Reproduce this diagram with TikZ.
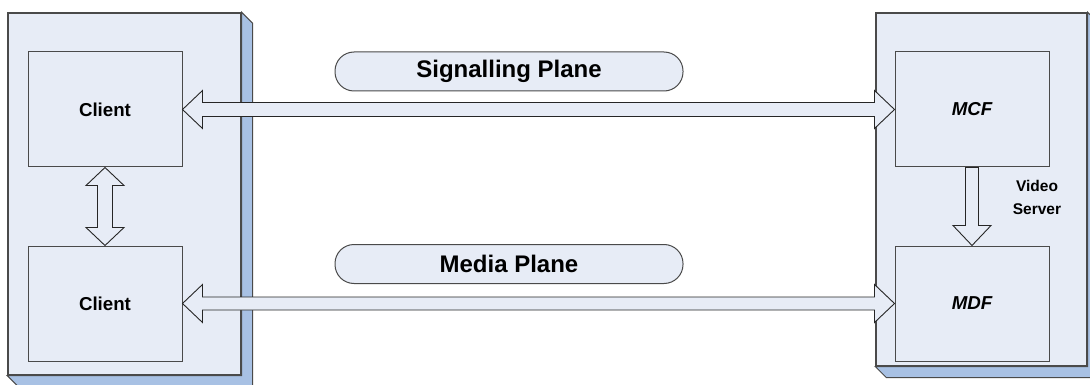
\documentclass[tikz,border=0pt]{standalone}
\usepackage{fontspec}
\setmainfont{Liberation Sans}
\usetikzlibrary{calc,positioning}
\definecolor{planefill}{HTML}{E7ECF6}
\definecolor{slabfill}{HTML}{A8C1E4}
\definecolor{edgegray}{HTML}{4A4A4A}
\tikzset{
    host/.style={draw=edgegray, line width=1.3pt, fill=planefill, minimum width=#1, inner sep=0pt},
    func/.style={draw=edgegray, line width=1pt, fill=planefill, minimum width=154pt, minimum height=115pt,
        font=\fontsize{18.7}{22}\selectfont\bfseries},
    plane/.style={draw=edgegray, line width=1pt, fill=planefill, rounded corners=19pt, minimum width=348pt,
        minimum height=39pt, font=\fontsize{24}{28}\selectfont\bfseries},
    slab/.style={draw=edgegray, line width=1pt, fill=slabfill},
    blockarr/.style={draw=black!85, line width=0.9pt, fill=planefill, line join=miter}
}
\begin{document}
\begin{tikzpicture}[x=1pt, y=-1pt]
        \useasboundingbox (0,0) rectangle (1090,385);
        % hosts
        \node[host=233pt, minimum height=362pt] (lhost) at (124.5,194) {};
        \node[host=211pt, minimum height=353pt] (rhost) at (981.5,189.5) {};
        \filldraw[slab] (lhost.north east) -- ++(11,11) -- ($(lhost.south east)+(11,11)$)
            -- ($(lhost.south west)+(11,11)$) -- (lhost.south west) -- (lhost.south east) -- cycle;
        \filldraw[slab] (rhost.north east) -- ++(11,11) -- ($(rhost.south east)+(11,11)$)
            -- ($(rhost.south west)+(11,11)$) -- (rhost.south west) -- (rhost.south east) -- cycle;
        \node[host=233pt, minimum height=362pt] at (lhost) {};
        \node[host=211pt, minimum height=353pt] at (rhost) {};
        % functions
        \node[func] (client1) at (105,109.5) {Client};
        \node[func, below=78pt of client1] (client2) {Client};
        \node[func] (mcf) at (972,109.5) {\itshape MCF};
        \node[func, below=78pt of mcf] (mdf) {\itshape MDF};
        \node[align=center, font=\fontsize{15.5}{23}\selectfont\bfseries] (vs) at (1037,197) {Video\\Server};
        % planes
        \node[plane] (sigplane) at (509,71.5) {Signalling Plane};
        \node[plane] (medplane) at (509,264) {Media Plane};
        % arrows
        \draw[blockarr] (client1.east) -- ++(20,-19) -- ++(0,12) -- ($(mcf.west)+(-20,-7)$) -- ++(0,-12)
            -- (mcf.west) -- ++(-20,19) -- ++(0,-12) -- ($(client1.east)+(20,7)$) -- ++(0,12) -- cycle;
        \draw[blockarr] (client2.east) -- ++(20,-19) -- ++(0,12.5) -- ($(mdf.west)+(-20,-6.5)$) -- ++(0,-12.5)
            -- (mdf.west) -- ++(-20,19) -- ++(0,-12.5) -- ($(client2.east)+(20,6.5)$) -- ++(0,12.5) -- cycle;
        \draw[blockarr] (client1.south) -- ++(19,18) -- ++(-11.5,0) -- ($(client2.north)+(7.5,-18)$) -- ++(11.5,0)
            -- (client2.north) -- ++(-19,-18) -- ++(11.5,0) -- ($(client1.south)+(-7.5,18)$) -- ++(-11.5,0) -- cycle;
        \draw[blockarr] ($(mcf.south)+(-6.5,0)$) -- ($(mcf.south)+(6.5,0)$) -- ($(mdf.north)+(6.5,-20)$) -- ++(12.5,0)
            -- (mdf.north) -- ++(-19,-20) -- ++(12.5,0) -- cycle;
\end{tikzpicture}
\end{document}
